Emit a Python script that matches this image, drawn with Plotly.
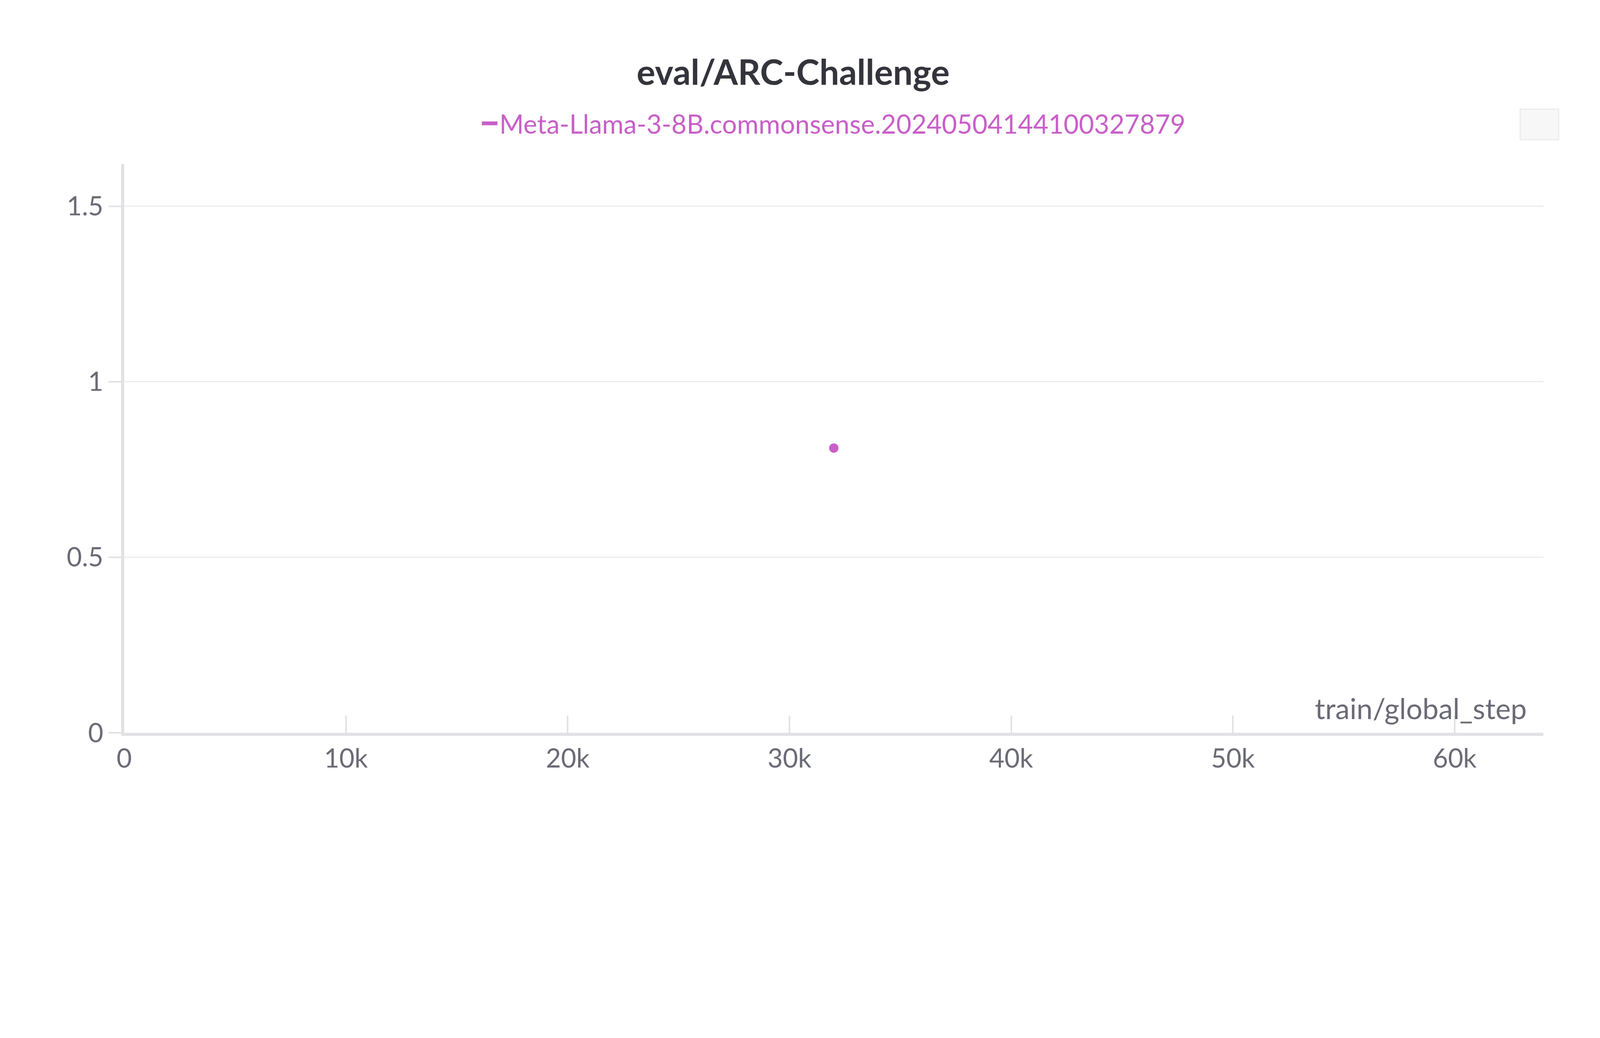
import plotly.graph_objects as go

run_name = "Meta-Llama-3-8B.commonsense.20240504144100327879"
steps = [32000]
arc_challenge = [0.811]

x_ticks = [0, 10000, 20000, 30000, 40000, 50000, 60000]
x_labels = ["0", "10k", "20k", "30k", "40k", "50k", "60k"]
y_ticks = [0, 0.5, 1, 1.5]
y_labels = ["0", "0.5", "1", "1.5"]

color = "#c85fc8"
grey = "#6b6b76"
S = 0.8  # page appears scaled up by the browser

W, H = 5056 * S, 2656 * S
L, R, T, B = 388 * S, 127 * S, 515 * S, 323 * S
PH = H - T - B
PW = W - L - R

fig = go.Figure()
fig.add_trace(go.Scatter(
    x=steps, y=arc_challenge, mode="markers", showlegend=False,
    marker=dict(color=color, size=30 * S),
))
fig.add_trace(go.Scatter(
    x=[None], y=[None], mode="lines", name=run_name,
    line=dict(color=color, width=12 * S),
))

fig.update_layout(
    width=W, height=H,
    paper_bgcolor="white", plot_bgcolor="white",
    margin=dict(l=L, r=R, t=T, b=B),
    font=dict(family="Lato", color=grey, size=80 * S),
    title=dict(text="<b>eval/ARC-Challenge</b>", x=0.5, xanchor="center",
               y=1 - 222 * S / H, yanchor="middle",
               font=dict(size=112 * S, color="#34343c")),
    showlegend=True,
    legend=dict(orientation="h", x=0.5, xanchor="center",
                y=1 + (515 - 385) * S / PH, yanchor="middle",
                font=dict(size=84 * S, color=color), itemwidth=40),
)
fig.update_xaxes(
    range=[0, 64000], tickvals=x_ticks, ticktext=x_labels,
    showgrid=False, zeroline=False, showline=True, linecolor="#e2e2e6", linewidth=10 * S,
    ticks="inside", ticklen=55 * S, tickwidth=5 * S, tickcolor="#e2e2e6",
    tickfont=dict(size=84 * S, color=grey),
)
fig.update_yaxes(
    range=[0, 1.62], tickvals=y_ticks, ticktext=y_labels,
    showgrid=True, gridcolor="#ececee", gridwidth=4 * S, zeroline=False,
    showline=True, linecolor="#e2e2e6", linewidth=10 * S,
    ticks="outside", ticklen=40 * S, tickwidth=5 * S, tickcolor="#e2e2e6",
    tickfont=dict(size=84 * S, color=grey),
)
fig.add_annotation(text="train/global_step", xref="paper", yref="paper",
                   x=0.989, y=0.012, xanchor="right", yanchor="bottom",
                   showarrow=False, font=dict(size=92 * S, color=grey))
fig.add_shape(type="rect", xref="paper", yref="paper",
              x0=(4855 - 388) * S / PW, x1=(4978 - 388) * S / PW,
              y0=1 + (515 - 437) * S / PH, y1=1 + (515 - 339) * S / PH,
              fillcolor="#f7f7f8", line=dict(color="#ececee", width=3))

fig.write_html("out.html")
